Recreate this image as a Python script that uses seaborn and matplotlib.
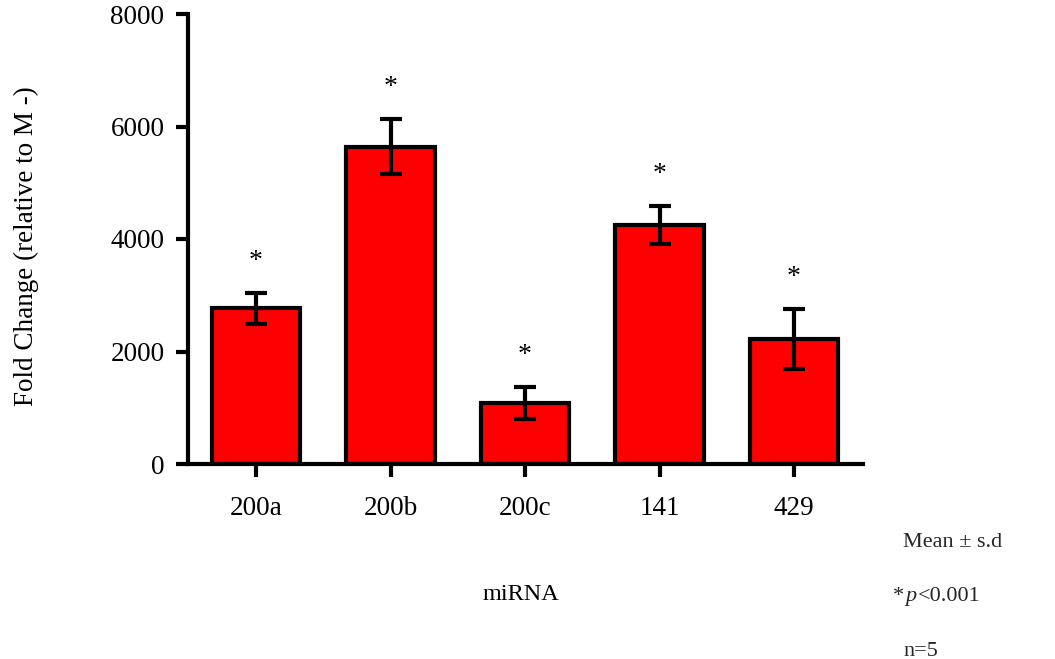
import matplotlib
matplotlib.use("Agg")
import matplotlib.pyplot as plt
import seaborn as sns
import pandas as pd

# ---- data ----
categories = ["200a", "200b", "200c", "141", "429"]
means = [2770, 5640, 1085, 4246, 2225]
sds = [275, 485, 285, 340, 531]
tick_values = [0, 2000, 4000, 6000, 8000]
y_label = "Fold Change (relative to M -)"
x_label = "miRNA"
notes = ["Mean \u00b1 s.d", "n=5"]

sns.set_theme(style="ticks")
plt.rcParams["font.family"] = ["Liberation Serif", "DejaVu Serif"]

W, H = 1055, 659
fig = plt.figure(figsize=(W / 100, H / 100), dpi=100)
ax = fig.add_axes([188 / W, 1 - 464 / H, (863 - 188) / W, (464 - 14) / H])

df = pd.DataFrame({"miRNA": categories, "fold": means})
sns.barplot(data=df, x="miRNA", y="fold", order=categories, color="#ff0000",
            saturation=1, edgecolor="black", linewidth=3.0, width=0.66,
            errorbar=None, ax=ax)
for p in ax.patches:
    p.set_facecolor("#ff0000")

xs = list(range(len(categories)))
ax.errorbar(xs, means, yerr=sds, fmt="none", ecolor="black", elinewidth=3.0,
            capsize=8, capthick=3.0, zorder=5)

for i, (m, s) in enumerate(zip(means, sds)):
    ax.annotate("*", xy=(i, m + s), xytext=(0, 18), textcoords="offset points",
                ha="center", va="baseline", fontsize=20, color="black")

ax.set_ylim(0, 8000)
ax.set_xlim(-0.506, 4.513)
ax.set_yticks(tick_values)
ax.set_yticklabels([str(v) for v in tick_values])
sns.despine(ax=ax)
for side in ["left", "bottom"]:
    ax.spines[side].set_linewidth(3.0)
    ax.spines[side].set_color("black")
    ax.spines[side].set_capstyle("projecting")
ax.tick_params(axis="both", which="major", length=9, width=3.0, color="black",
               labelsize=19.5, labelcolor="black")
ax.tick_params(axis="y", pad=8)
ax.tick_params(axis="x", pad=14)

ax.set_ylabel(y_label, fontsize=19.5, color="black")
ax.yaxis.set_label_coords((39 - 188) / 675, 0.485)
ax.set_xlabel(x_label, fontsize=17.5, color="black")
ax.xaxis.set_label_coords((521 - 188) / 675, (464 - 584) / 450)

# right-hand notes
fs = 16
fig.text(903 / W, 1 - 547 / H, notes[0], fontsize=fs, ha="left", va="baseline")
t1 = fig.text(893 / W, 1 - 601 / H, "*", fontsize=fs, ha="left", va="baseline")
fig.canvas.draw()
bb = t1.get_window_extent()
t2 = fig.text(bb.x1 / W + 1 / W, 1 - 601 / H, "p", fontsize=fs, fontstyle="italic",
              ha="left", va="baseline")
fig.canvas.draw()
bb2 = t2.get_window_extent()
fig.text(bb2.x1 / W + 2 / W, 1 - 601 / H, "<0.001", fontsize=fs, ha="left", va="baseline")
fig.text(903 / W, 1 - 656 / H, notes[1], fontsize=fs, ha="left", va="baseline")

fig.savefig("out.png", dpi=100, facecolor="white")
